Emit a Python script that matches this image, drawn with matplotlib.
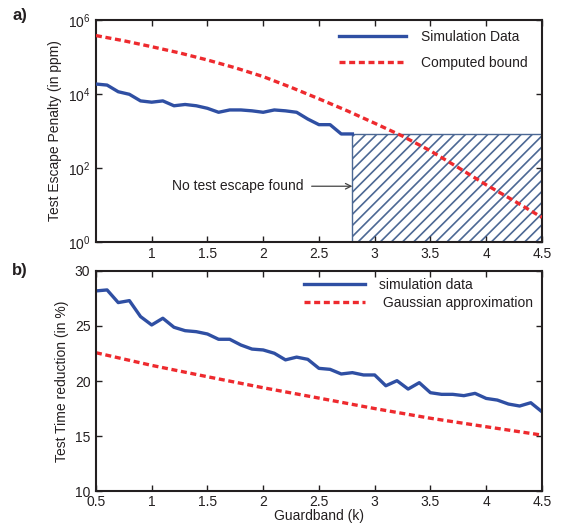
import numpy as np
import matplotlib.pyplot as plt
from matplotlib.patches import Rectangle
from matplotlib.ticker import LogFormatterMathtext, NullLocator

plt.rcParams['font.family'] = ['Liberation Sans', 'DejaVu Sans']
plt.rcParams['text.color'] = '#231f20'
plt.rcParams['axes.labelcolor'] = '#231f20'
plt.rcParams['xtick.color'] = '#231f20'
plt.rcParams['ytick.color'] = '#231f20'
plt.rcParams['hatch.linewidth'] = 1.2

BLUE = '#2f4fa3'
RED = '#ee2a2e'
HATCH = '#4c6894'

# --- a) test escape penalty (ppm) ---
sim_k = [0.5, 0.6, 0.7, 0.8, 0.9, 1.0, 1.1, 1.2, 1.3, 1.4, 1.5, 1.6,
         1.7, 1.8, 1.9, 2.0, 2.1, 2.2, 2.3, 2.4, 2.5, 2.6, 2.7, 2.8]
sim_ppm = [18600, 17400, 11500, 9800, 6500, 6000, 6500, 4800, 5200, 4800, 4100, 3200,
           3700, 3700, 3500, 3200, 3700, 3500, 3200, 2100, 1480, 1480, 830, 830]

bound_k = [0.5, 0.75, 1.0, 1.25, 1.5, 1.75, 2.0, 2.25, 2.5, 2.75,
           3.0, 3.25, 3.5, 3.75, 4.0, 4.25, 4.5]
bound_ppm = [380000, 275000, 190000, 129000, 83000, 51000, 29500, 15100, 7400, 3550,
             1620, 725, 290, 102, 35, 12.9, 4.6]

no_escape_k = 2.8      # start of region without test escapes
no_escape_ppm = 830    # upper edge of that region

# --- b) test time reduction (%) ---
red_k = [0.5, 0.6, 0.7, 0.8, 0.9, 1.0, 1.1, 1.2, 1.3, 1.4, 1.5, 1.6, 1.7, 1.8, 1.9,
         2.0, 2.1, 2.2, 2.3, 2.4, 2.5, 2.6, 2.7, 2.8, 2.9, 3.0, 3.1, 3.2, 3.3, 3.4,
         3.5, 3.6, 3.7, 3.8, 3.9, 4.0, 4.1, 4.2, 4.3, 4.4, 4.5]
red_sim = [28.18, 28.27, 27.12, 27.3, 25.85, 25.09, 25.7, 24.88, 24.57, 24.48, 24.27,
           23.79, 23.79, 23.27, 22.9, 22.82, 22.52, 21.92, 22.17, 21.97, 21.15, 21.06,
           20.64, 20.76, 20.55, 20.55, 19.57, 20.03, 19.27, 19.85, 18.94, 18.79, 18.79,
           18.67, 18.88, 18.42, 18.27, 17.91, 17.73, 18.03, 17.21]

gauss_k = [0.5, 1.0, 1.5, 2.0, 2.5, 3.0, 3.5, 4.0, 4.5]
gauss_red = [22.57, 21.42, 20.39, 19.39, 18.45, 17.5, 16.62, 15.85, 15.09]

FS = 10

fig = plt.figure(figsize=(5.61, 5.27), dpi=100)
ax1 = fig.add_axes([0.171, 0.541, 0.795, 0.421])
ax2 = fig.add_axes([0.171, 0.068, 0.795, 0.418])

for ax in (ax1, ax2):
    ax.tick_params(direction='in', top=True, right=True, length=4, width=1.0,
                   labelsize=FS, pad=4)
    for s in ax.spines.values():
        s.set_linewidth(1.5)
        s.set_color('#231f20')
ax2.tick_params(axis='x', pad=2.5)

# panel a
ax1.add_patch(Rectangle((no_escape_k, 1), 4.5 - no_escape_k, no_escape_ppm - 1,
                        facecolor='white', edgecolor=HATCH, hatch='///',
                        linewidth=1.0, zorder=1))
ax1.plot(sim_k, sim_ppm, color=BLUE, lw=2.4, label='Simulation Data', zorder=3)
ax1.plot(bound_k, bound_ppm, color=RED, lw=2.4, dashes=(1.8, 1.1),
         label='Computed bound', zorder=4)
ax1.set_yscale('log')
ax1.set_xlim(0.5, 4.5)
ax1.set_ylim(1, 1e6)
ax1.set_yticks([1, 1e2, 1e4, 1e6])
ax1.yaxis.set_major_formatter(LogFormatterMathtext())
ax1.yaxis.set_minor_locator(NullLocator())
ax1.set_xticks(np.arange(1, 4.51, 0.5))
ax1.set_xticklabels(['1', '1.5', '2', '2.5', '3', '3.5', '4', '4.5'])
ax1.set_ylabel('Test Escape Penalty (in ppm)', fontsize=FS, labelpad=4)
ax1.annotate('No test escape found', xy=(no_escape_k, 32), xytext=(2.36, 32),
             ha='right', va='center', fontsize=FS,
             arrowprops=dict(arrowstyle='->', color='#444444', lw=0.9,
                             shrinkA=4, shrinkB=0))
ax1.legend(loc='upper right', frameon=False, fontsize=FS, handlelength=4.8,
           handletextpad=1.1, labelspacing=0.85, borderaxespad=0.3,
           bbox_to_anchor=(0.99, 1.0))

# panel b
ax2.plot(red_k, red_sim, color=BLUE, lw=2.4, label='simulation data')
ax2.plot(gauss_k, gauss_red, color=RED, lw=2.4, dashes=(1.8, 1.1),
         label=' Gaussian approximation')
ax2.set_xlim(0.5, 4.5)
ax2.set_ylim(10, 30)
ax2.set_xticks(np.arange(0.5, 4.51, 0.5))
ax2.set_xticklabels(['0.5', '1', '1.5', '2', '2.5', '3', '3.5', '4', '4.5'])
ax2.set_yticks([10, 15, 20, 25, 30])
ax2.set_ylabel('Test Time reduction (in %)', fontsize=FS, labelpad=4)
ax2.set_xlabel('Guardband (k)', fontsize=FS, labelpad=0)
ax2.legend(loc='upper right', frameon=False, fontsize=FS, handlelength=4.4,
           handletextpad=1.0, labelspacing=0.3, borderaxespad=0.1,
           bbox_to_anchor=(0.995, 1.0))

fig.text(0.022, 0.97, 'a)', fontsize=12, fontweight='bold', va='center')
fig.text(0.022, 0.487, 'b)', fontsize=12, fontweight='bold', va='center')

fig.savefig('out.png', dpi=100)
